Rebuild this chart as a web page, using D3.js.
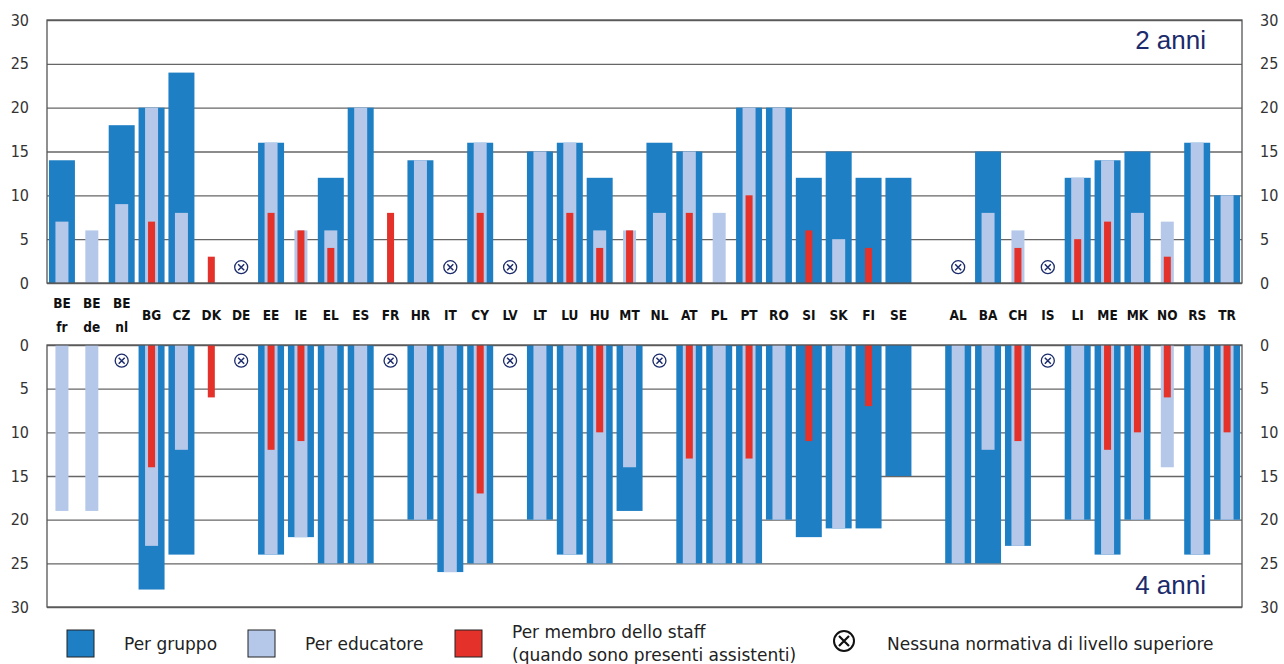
<!DOCTYPE html>
<html><head><meta charset="utf-8">
<script src="https://cdn.jsdelivr.net/npm/d3@7"></script>
<style>body{margin:0;background:#fff} svg{display:block}</style>
</head><body><svg id="c" width="1284" height="664"></svg>
<script>
// ---------- DATA ----------
const categories = ["BE fr","BE de","BE nl","BG","CZ","DK","DE","EE","IE","EL","ES","FR","HR","IT","CY","LV","LT","LU","HU","MT","NL","AT","PL","PT","RO","SI","SK","FI","SE","","AL","BA","CH","IS","LI","ME","MK","NO","RS","TR"];
// 2 anni (top panel)
const topGroup    = [14,null,18,20,24,null,null,16,null,12,20,null,14,null,16,null,15,16,12,null,16,15,null,20,20,12,15,12,12,null,null,15,null,null,12,14,15,null,16,10];
const topEducator = [7,6,9,20,8,null,null,16,6,6,20,null,14,null,16,null,15,16,6,6,8,15,8,20,20,null,5,null,null,null,null,8,6,null,12,14,8,7,16,10];
const topStaff    = [null,null,null,7,null,3,null,8,6,4,null,8,null,null,8,null,null,8,4,6,null,8,null,10,null,6,null,4,null,null,null,null,4,null,5,7,null,3,null,null];
const topNone     = ["DE","IT","LV","AL","IS"];
// 4 anni (bottom panel)
const bottomGroup    = [null,null,null,28,24,null,null,24,22,25,25,null,20,26,25,null,20,24,25,19,null,25,25,25,20,22,21,21,15,null,25,25,23,null,20,24,20,null,24,20];
const bottomEducator = [19,19,null,23,12,null,null,24,22,25,25,null,20,26,25,null,20,24,25,14,null,25,25,25,20,null,21,null,null,null,25,12,23,null,20,24,20,14,24,20];
const bottomStaff    = [null,null,null,14,null,6,null,12,11,null,null,null,null,null,17,null,null,null,10,null,null,13,null,13,null,11,null,7,null,null,null,null,11,null,null,12,10,6,null,10];
const bottomNone     = ["BE nl","DE","FR","LV","NL","IS"];
const yTicks = [0,5,10,15,20,25,30];
const panelLabels = ["2 anni","4 anni"];
const legendItems = ["Per gruppo","Per educatore","Per membro dello staff","(quando sono presenti assistenti)","Nessuna normativa di livello superiore"];

// ---------- STYLE ----------
const C_GROUP = "#1f7fc4", C_EDU = "#b5c8e9", C_STAFF = "#e4312a", C_NAVY = "#1b2b6b";
const x0 = 47, x1 = 1242;
const svg = d3.select("#c");

const x = d3.scaleBand().domain(categories).range([x0, x1]).paddingInner(0.13).paddingOuter(0.065);
const yTop = d3.scaleLinear().domain([0,30]).range([283, 20]);
const yBot = d3.scaleLinear().domain([0,30]).range([345, 607]);

function panel(y, group, edu, staff, none, up) {
  const g = svg.append("g");
  // grid
  g.append("g").attr("transform", `translate(${x0},0)`)
    .call(d3.axisLeft(y).tickValues(yTicks).tickSize(-(x1 - x0)).tickFormat(""))
    .call(s => s.select(".domain").remove())
    .selectAll("line").attr("stroke", "#666").attr("stroke-width", 1.3);

  const bw = x.bandwidth();
  function bars(vals, frac, color) {
    const w = bw * frac;
    g.append("g").selectAll("rect")
      .data(categories.map((c, i) => ({c, v: vals[i]})).filter(d => d.v != null))
      .join("rect")
      .attr("x", d => x(d.c) + (bw - w) / 2)
      .attr("width", w)
      .attr("y", d => up ? y(d.v) : y(0))
      .attr("height", d => Math.abs(y(d.v) - y(0)))
      .attr("fill", color);
  }
  bars(group, 1, C_GROUP);
  bars(edu, 0.5, C_EDU);
  bars(staff, 0.27, C_STAFF);

  // frame
  g.append("rect").attr("x", x0).attr("width", x1 - x0)
    .attr("y", Math.min(y(30), y(0))).attr("height", Math.abs(y(30) - y(0)))
    .attr("fill", "none").attr("stroke", "#555").attr("stroke-width", 1.3);

  // no regulation symbols
  const ns = g.append("g").selectAll("g").data(none).join("g")
    .attr("transform", d => `translate(${x(d) + bw / 2},${y(1.8)})`);
  ns.append("circle").attr("r", 6.5).attr("fill", "#fff").attr("stroke", C_NAVY).attr("stroke-width", 1.3);
  ns.append("path").attr("d", "M-3,-3L3,3M-3,3L3,-3").attr("stroke", C_NAVY).attr("stroke-width", 1.5);

  // tick labels
  const fmt = sel => sel.call(s => s.select(".domain").remove())
    .selectAll("text").attr("font-family", "'DejaVu Sans Condensed','DejaVu Sans',sans-serif")
    .attr("font-size", 16).attr("fill", "#333");
  g.append("g").attr("transform", `translate(${x0},0)`)
    .call(d3.axisLeft(y).tickValues(yTicks).tickSize(0).tickPadding(18)).call(fmt);
  g.append("g").attr("transform", `translate(${x1},0)`)
    .call(d3.axisRight(y).tickValues(yTicks).tickSize(0).tickPadding(18)).call(fmt);
}

panel(yTop, topGroup, topEducator, topStaff, topNone, true);
panel(yBot, bottomGroup, bottomEducator, bottomStaff, bottomNone, false);

// panel labels
svg.append("text").attr("x", 1206).attr("y", 49).attr("text-anchor", "end")
  .attr("font-family", "'Liberation Sans',Arial,sans-serif").attr("font-size", 26).attr("fill", C_NAVY).text(panelLabels[0]);
svg.append("text").attr("x", 1206).attr("y", 594).attr("text-anchor", "end")
  .attr("font-family", "'Liberation Sans',Arial,sans-serif").attr("font-size", 26).attr("fill", C_NAVY).text(panelLabels[1]);

// category labels
const cl = svg.append("g").attr("font-family", "'DejaVu Sans Condensed','DejaVu Sans',sans-serif")
  .attr("font-weight", "bold").attr("font-size", 13.5).attr("fill", "#111").attr("text-anchor", "middle");
categories.forEach(c => {
  if (!c) return;
  const cx = x(c) + x.bandwidth() / 2;
  const parts = c.split(" ");
  if (parts.length === 2) {
    cl.append("text").attr("x", cx).attr("y", 308).text(parts[0]);
    cl.append("text").attr("x", cx).attr("y", 332).text(parts[1]);
  } else {
    cl.append("text").attr("x", cx).attr("y", 320).text(c);
  }
});

// legend
const lg = svg.append("g").attr("font-family", "'DejaVu Sans',sans-serif").attr("font-size", 17).attr("fill", "#222");
[[67, C_GROUP],[248, C_EDU],[455, C_STAFF]].forEach(([lx, col]) => {
  lg.append("rect").attr("x", lx).attr("y", 630).attr("width", 27).attr("height", 27)
    .attr("fill", col).attr("stroke", "#222").attr("stroke-width", 1);
});
lg.append("text").attr("x", 124).attr("y", 650).text(legendItems[0]);
lg.append("text").attr("x", 305).attr("y", 650).text(legendItems[1]);
lg.append("text").attr("x", 512).attr("y", 638).text(legendItems[2]);
lg.append("text").attr("x", 512).attr("y", 661).text(legendItems[3]);
const lsym = lg.append("g").attr("transform", "translate(844,641)");
lsym.append("circle").attr("r", 10).attr("fill", "none").attr("stroke", "#111").attr("stroke-width", 2);
lsym.append("path").attr("d", "M-5,-5L5,5M-5,5L5,-5").attr("stroke", "#111").attr("stroke-width", 2.2);
lg.append("text").attr("x", 887).attr("y", 650).text(legendItems[4]);
</script></body></html>
